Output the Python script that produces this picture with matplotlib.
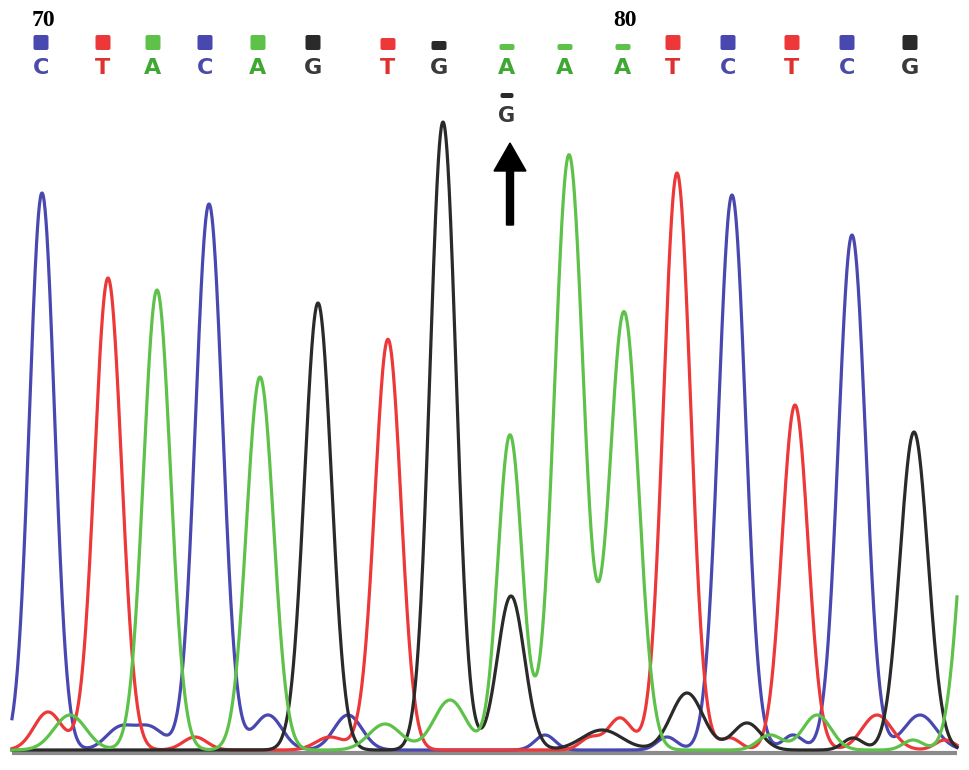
import numpy as np
import matplotlib
matplotlib.use('Agg')
import matplotlib.pyplot as plt
from matplotlib.patches import FancyArrow, FancyBboxPatch

# Base calls (position in scan units, letter, quality bar height)
call_pos = [41, 103, 153, 205, 258, 313, 388, 439, 507, 565, 623, 673, 728, 792, 847, 910]
call_base = ['C', 'T', 'A', 'C', 'A', 'G', 'T', 'G', 'A', 'A', 'A', 'T', 'C', 'T', 'C', 'G']
call_qual = [15, 15, 15, 15, 15, 15, 12, 9, 6, 6, 6, 15, 15, 15, 15, 15]
numbered = {0: '70', 10: '80'}
# secondary call under the mixed position
second_pos = 507
second_base = 'G'

# Main peaks per channel: centre, height, width
peaks_C = [(42, 557, 12.5), (209, 546, 13.5), (732, 555, 13.5), (852, 515, 13.5)]
peaks_T = [(108, 472, 13.5), (388, 410, 13.0), (677, 577, 13.5), (795, 345, 13.0)]
peaks_A = [(157, 460, 13.5), (260, 373, 13.5), (510, 315, 12.0), (569, 595, 14.5),
           (624, 438, 14.5), (975, 350, 14.0)]
peaks_G = [(318, 447, 13.5), (443, 628, 13.0), (511, 154, 13.5), (914, 318, 14.0)]

# Small background bumps
bumps_C = [(120, 22, 14), (150, 22, 14), (268, 35, 14), (348, 35, 14), (545, 15, 10),
           (667, 13, 10), (793, 15, 10), (920, 35, 16)]
bumps_T = [(48, 38, 14), (195, 13, 12), (330, 13, 14), (365, 10, 10), (590, 12, 10),
           (620, 32, 12), (730, 12, 10), (877, 35, 15), (945, 10, 10)]
bumps_A = [(70, 35, 16), (385, 26, 16), (450, 50, 16), (770, 15, 12),
           (817, 35, 14), (913, 10, 10)]
bumps_G = [(602, 20, 20), (687, 57, 16), (747, 27, 14), (853, 12, 10)]

colors = {'C': '#4848b0', 'T': '#ec3838', 'A': '#5ec24a', 'G': '#2a2a2a'}
text_colors = {'C': '#4a4aa8', 'T': '#e03030', 'A': '#3ea832', 'G': '#3a3a3a'}


def trace(x, peaks):
    y = np.zeros_like(x)
    for c, h, w in peaks:
        y += h * np.exp(-(x - c) ** 2 / (2 * w ** 2))
    return y


def qual_box(ax, x, bottom, h, w, color):
    ax.add_patch(FancyBboxPatch((x - w / 2 + 2, bottom + 2), w - 4, max(h - 4, 1),
                                boxstyle='round,pad=2', fc=color, ec='none', zorder=3))


fig = plt.figure(figsize=(9.69, 7.70), dpi=100)
ax = fig.add_axes([0, 0, 1, 1])
ax.set_xlim(0, 969)
ax.set_ylim(-20, 750)
ax.axis('off')

x = np.linspace(12, 957, 2000)

# baseline
ax.plot([12, 957], [-3, -3], color='#8a8a8a', lw=3, solid_capstyle='butt', zorder=1)

channels = [('C', peaks_C, bumps_C), ('T', peaks_T, bumps_T),
            ('G', peaks_G, bumps_G), ('A', peaks_A, bumps_A)]
for base, pk, bp in channels:
    ax.plot(x, trace(x, pk + bp), color=colors[base], lw=2.3, zorder=2)

# base calls along the top
for i, (p, b, q) in enumerate(zip(call_pos, call_base, call_qual)):
    qual_box(ax, p, 700, q, 15, colors[b])
    ax.text(p, 682, b, ha='center', va='center', fontsize=16, fontweight='bold',
            color=text_colors[b])
    if i in numbered:
        ax.text(p + 2, 729, numbered[i], ha='center', va='center', fontsize=17,
                fontweight='bold', family='Liberation Serif', color='black')

qual_box(ax, second_pos, 652, 5, 13, colors[second_base])
ax.text(second_pos, 634, second_base, ha='center', va='center', fontsize=15,
        fontweight='bold', color=text_colors[second_base])

# arrow marking the mixed base
ax.add_patch(FancyArrow(510, 525, 0, 82, width=7, head_width=32, head_length=28,
                        length_includes_head=True, color='black', zorder=4))

fig.savefig('out.png', dpi=100)
